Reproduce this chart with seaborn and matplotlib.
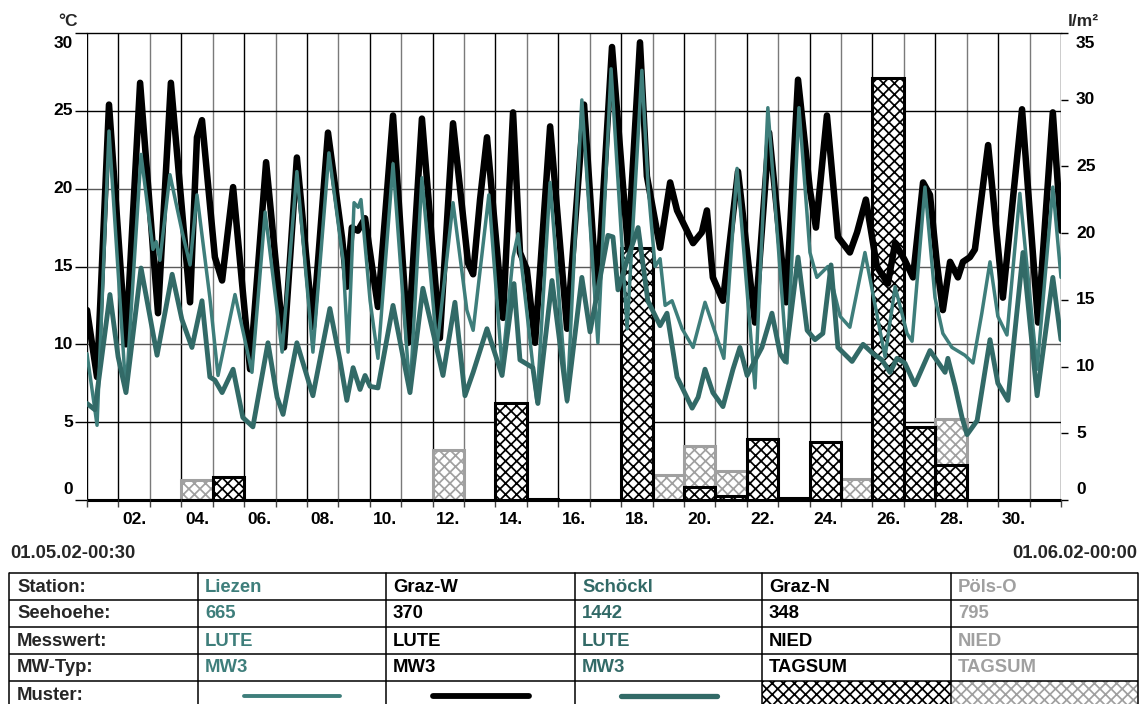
import matplotlib
matplotlib.use("Agg")
import matplotlib.pyplot as plt
import matplotlib.transforms as mtransforms
from matplotlib.patches import Rectangle
from matplotlib.lines import Line2D
import numpy as np
import pandas as pd
import seaborn as sns

# ---------------- data (days since 01.05.02 00:00) ----------------
grazw_day = [0.00, 0.32, 0.70, 1.24, 1.69, 2.26, 2.67, 3.28, 3.50, 3.66, 4.07, 4.30, 4.65, 5.19,
             5.70, 6.27, 6.68, 7.19, 7.67, 8.12, 8.27, 8.43, 8.62, 8.85, 9.26, 9.74, 10.22, 10.66,
             11.23, 11.65, 12.13, 12.29, 12.51, 12.73, 13.24, 13.56, 13.78, 14.00, 14.26, 14.74,
             15.28, 15.82, 16.23, 16.71, 17.22, 17.60, 17.82, 18.24, 18.56, 18.78, 19.29, 19.57,
             19.73, 19.92, 20.24, 20.72, 21.26, 21.71, 22.25, 22.63, 23.01, 23.20, 23.55, 23.90,
             24.28, 24.51, 24.79, 25.14, 25.49, 25.72, 26.03, 26.29, 26.61, 26.83, 27.05, 27.24,
             27.47, 27.72, 27.88, 28.10, 28.26, 28.68, 29.15, 29.76, 30.27, 30.74, 31.00]
grazw_temp = [12.2, 7.9, 25.4, 10.0, 26.8, 12.0, 26.8, 12.7, 23.3, 24.4, 15.6, 14.1, 20.1, 8.4,
              21.7, 9.8, 22.0, 11.1, 23.6, 16.8, 13.7, 17.5, 17.3, 18.1, 12.4, 24.7, 10.1, 24.5,
              10.4, 24.2, 15.2, 14.5, 19.3, 23.3, 11.7, 24.9, 15.9, 14.8, 10.1, 24.0,
              11.0, 25.4, 13.0, 29.1, 16.1, 29.4, 20.8, 16.2, 20.4, 18.6, 16.5, 17.2,
              18.6, 14.3, 12.8, 21.1, 11.4, 23.6, 12.7, 27.0, 19.9, 17.5, 24.7, 16.9,
              15.9, 17.2, 19.3, 15.0, 13.9, 16.5, 15.4, 14.3, 20.4, 19.6, 15.2, 12.2,
              15.3, 14.3, 15.3, 15.6, 16.1, 22.8, 13.0, 25.1, 11.4, 24.9, 17.3]

liezen_day = [0.00, 0.32, 0.70, 1.24, 1.72, 2.10, 2.20, 2.32, 2.64, 3.02, 3.28, 3.50, 3.91, 4.17,
              4.71, 5.25, 5.67, 6.21, 6.68, 7.19, 7.70, 8.15, 8.31, 8.50, 8.63, 8.72, 9.01, 9.26,
              9.74, 10.28, 10.66, 11.14, 11.65, 12.09, 12.29, 12.79, 13.21, 13.56, 13.72, 14.32,
              14.74, 15.28, 15.75, 16.26, 16.68, 17.19, 17.66, 17.86, 18.08, 18.24, 18.40, 18.62,
              18.94, 19.29, 19.67, 20.27, 20.69, 21.26, 21.67, 22.28, 22.66, 23.01, 23.23, 23.58,
              23.97, 24.28, 24.76, 25.40, 25.72, 26.10, 26.26, 26.67, 26.99, 27.24, 27.53, 27.94,
              28.20, 28.48, 28.74, 28.99, 29.28, 29.69, 30.24, 30.74, 31.00]
liezen_temp = [9.4, 4.8, 23.7, 6.9, 22.2, 16.1, 16.6, 15.4, 20.9, 17.3, 15.1, 19.6, 13.0, 8.0,
               13.2, 8.2, 18.5, 9.5, 21.1, 9.5, 22.3, 15.4, 9.5, 19.1, 18.8, 19.3, 12.8, 9.1,
               21.6, 6.9, 20.7, 9.8, 19.1, 12.2, 10.9, 19.6, 8.5, 15.6, 17.1, 6.3,
               20.4, 6.3, 25.7, 10.1, 27.7, 11.0, 27.6, 20.1, 15.0, 15.5, 12.5, 12.8,
               11.0, 9.8, 12.7, 9.1, 21.3, 7.2, 25.2, 8.8, 25.2, 15.9, 14.3, 15.0,
               11.8, 11.1, 15.9, 9.2, 13.7, 10.7, 10.2, 20.1, 13.0, 10.7, 9.8, 9.3,
               8.8, 12.0, 15.3, 11.8, 10.6, 19.7, 8.4, 20.1, 14.3]

schoeckl_day = [0.00, 0.25, 0.73, 0.99, 1.24, 1.72, 2.23, 2.71, 3.02, 3.34, 3.66, 3.91, 4.07, 4.30,
                4.65, 4.96, 5.28, 5.76, 6.05, 6.24, 6.68, 7.19, 7.73, 8.05, 8.27, 8.47, 8.69, 8.85,
                9.01, 9.26, 9.74, 10.28, 10.69, 11.33, 11.71, 12.03, 12.29, 12.73, 13.21, 13.59,
                13.78, 14.19, 14.35, 14.80, 15.28, 15.75, 16.01, 16.58, 16.74, 16.90, 17.19, 17.54,
                17.85, 18.24, 18.46, 18.78, 19.26, 19.45, 19.67, 19.92, 20.24, 20.56, 20.78, 21.01,
                21.48, 21.80, 22.06, 22.22, 22.63, 22.92, 23.17, 23.42, 23.68, 23.90, 24.35, 24.70,
                25.02, 25.30, 25.56, 25.78, 26.03, 26.35, 26.83, 27.31, 27.40, 27.63, 27.85, 28.01,
                28.33, 28.74, 28.99, 29.31, 29.79, 30.24, 30.74, 31.00]
schoeckl_temp = [6.2, 5.8, 13.2, 9.2, 6.9, 14.9, 9.3, 14.5, 11.6, 9.8, 12.8, 7.9, 7.7, 6.9,
                 8.4, 5.3, 4.7, 10.1, 6.6, 5.5, 10.1, 6.7, 12.3, 9.0, 6.4, 8.5, 7.1, 8.0,
                 7.3, 7.2, 12.5, 6.9, 13.6, 8.0, 12.7, 6.7, 8.2, 11.0, 8.0, 13.9,
                 9.0, 8.5, 6.2, 14.1, 6.4, 14.3, 10.8, 17.0, 16.9, 13.5, 15.4, 17.5,
                 12.8, 11.2, 12.0, 7.9, 5.9, 6.6, 8.4, 6.9, 6.0, 8.4, 9.8, 8.0,
                 9.8, 12.0, 9.4, 8.9, 15.6, 10.9, 10.3, 10.7, 15.1, 9.8, 8.9, 10.0,
                 9.4, 9.0, 8.2, 9.1, 8.8, 7.4, 9.6, 8.2, 9.1, 7.3, 5.3, 4.2,
                 5.1, 10.3, 7.5, 6.4, 15.9, 6.7, 14.3, 10.3]

precip_days = list(range(1, 32))
grazn_precip = [0, 0, 0, 0, 1.7, 0, 0, 0, 0, 0, 0, 0, 0, 7.3, 0.1, 0, 0, 18.9, 0, 0.95,
                0.3, 4.6, 0.15, 4.35, 0, 31.6, 5.5, 2.6, 0, 0, 0]
pols_precip = [0, 0, 0, 1.5, 0, 0, 0, 0, 0, 0, 0, 3.75, 0, 0, 0, 0, 0, 0, 1.9, 4.05,
               2.2, 0, 0, 0, 1.6, 0, 0, 6.1, 0, 0, 0]

day_labels = ["02.", "04.", "06.", "08.", "10.", "12.", "14.", "16.", "18.", "20.", "22.",
              "24.", "26.", "28.", "30."]
temp_ticks = [0, 5, 10, 15, 20, 25, 30]
precip_ticks = [0, 5, 10, 15, 20, 25, 30, 35]

row_titles = ["Station:", "Seehoehe:", "Messwert:", "MW-Typ:", "Muster:"]
stations = ["Liezen", "Graz-W", "Schöckl", "Graz-N", "Pöls-O"]
altitudes = ["665", "370", "1442", "348", "795"]
measures = ["LUTE", "LUTE", "LUTE", "NIED", "NIED"]
mw_types = ["MW3", "MW3", "MW3", "TAGSUM", "TAGSUM"]

# ---------------- style ----------------
C_LIEZEN = "#3e7e7b"
C_SCHOECKL = "#326a67"
C_GRAZW = "#000000"
C_GRAZN = "#000000"
C_POLS = "#a0a0a0"
col_colors = [C_LIEZEN, C_GRAZW, C_SCHOECKL, C_GRAZN, C_POLS]

sns.set_theme(style="white")
plt.rcParams["font.family"] = ["Liberation Sans", "DejaVu Sans"]
plt.rcParams["font.weight"] = "bold"
plt.rcParams["hatch.linewidth"] = 1.25

W, H, DPI = 1142, 704, 100
fig = plt.figure(figsize=(W / DPI, H / DPI), dpi=DPI)
fig.patch.set_facecolor("white")
L, R, T, B = 87, 1061, 33, 500
axp = fig.add_axes([L / W, 1 - B / H, (R - L) / W, (B - T) / H])
ax = axp.twinx()
ax.yaxis.tick_left()
axp.yaxis.tick_right()
axp.set_facecolor("white")

# ---------------- precipitation bars (right axis) ----------------
edges = [float(e) for e in range(0, len(precip_days) + 1)]
bars_df = pd.DataFrame({"center": np.array(precip_days, dtype=float) - 0.5,
                        "grazn": grazn_precip, "pols": pols_precip})
sns.histplot(data=bars_df, x="center", weights="pols", bins=edges, ax=axp, stat="count",
             element="bars", fill=True, color="white", alpha=1, edgecolor=C_POLS,
             linewidth=2.2, hatch="xxx", clip_on=False, zorder=3)
sns.histplot(data=bars_df, x="center", weights="grazn", bins=edges, ax=axp, stat="count",
             element="bars", fill=True, color="white", alpha=1, edgecolor=C_GRAZN,
             linewidth=2.2, hatch="xxx", clip_on=False, zorder=4)

# ---------------- temperature lines (left axis) ----------------
line_kw = dict(estimator=None, sort=False, solid_joinstyle="round", solid_capstyle="round")
sns.lineplot(x=grazw_day, y=grazw_temp, ax=ax, color=C_GRAZW, linewidth=4.7, **line_kw)
sns.lineplot(x=liezen_day, y=liezen_temp, ax=ax, color=C_LIEZEN, linewidth=2.5, **line_kw)
sns.lineplot(x=schoeckl_day, y=schoeckl_temp, ax=ax, color=C_SCHOECKL, linewidth=3.5, **line_kw)

for a in (ax, axp):
    a.set_xlabel("")
    a.set_ylabel("")
    a.grid(False)
for s in ax.spines.values():
    s.set_visible(False)
for name, s in axp.spines.items():
    if name == "top":
        s.set_visible(True)
        s.set_color("black")
        s.set_linewidth(1.0)
    else:
        s.set_visible(False)

# grid (drawn on the back axes so bars cover it)
for k in range(len(precip_days) + 1):
    c = "black" if (k % 2 == 1 or k == 0) else "#7a7a7a"
    axp.axvline(k, color=c, lw=1.0, zorder=1)
htrans = mtransforms.blended_transform_factory(axp.transAxes, ax.transData)
for t in temp_ticks[1:-1]:
    c = "black" if t in (5, 25) else "#5a5a5a"
    axp.add_line(Line2D([0, 1], [t, t], transform=htrans, color=c, lw=1.0, zorder=1))
ax.set_xlim(0, 31)
axp.set_xlim(0, 31)
ax.set_ylim(0, 30)
axp.set_ylim(0, 35)

# ticks
ax.set_yticks(temp_ticks)
ax.tick_params(axis="y", which="major", left=True, right=False, length=8.6, width=1.0,
               color="black", labelleft=False, labelright=False)
axp.set_yticks(precip_ticks)
axp.tick_params(axis="y", which="major", right=True, left=False, length=5.0, width=1.0,
                color="black", labelright=False, labelleft=False)
axp.set_xticks(list(range(len(precip_days) + 1)))
axp.tick_params(axis="x", which="major", bottom=True, length=5.0, width=1.0, color="#444444",
                labelbottom=False)
axp.set_xticks([int(s[:-1]) - 0.5 for s in day_labels], minor=True)
axp.set_xticklabels(day_labels, minor=True, fontsize=12.5, fontweight="bold")
axp.tick_params(axis="x", which="minor", bottom=True, length=0, pad=9, colors="black")

FS = 12.5
for v in temp_ticks:
    dy = -11 if v == temp_ticks[-1] else (10 if v == 0 else 0)
    tr = mtransforms.offset_copy(ax.get_yaxis_transform(), fig=fig, x=-14, y=dy, units="dots")
    ax.text(0, v, str(v), transform=tr, ha="right", va="center", fontsize=FS,
            fontweight="bold", color="black")
for v in precip_ticks:
    dy = -11 if v == precip_ticks[-1] else (10 if v == 0 else 0)
    tr = mtransforms.offset_copy(axp.get_yaxis_transform(), fig=fig, x=15, y=dy, units="dots")
    axp.text(1, v, str(v), transform=tr, ha="left", va="center", fontsize=FS,
             fontweight="bold", color="black")

# ---------------- overlay: units, dates, table ----------------
ov = fig.add_axes([0, 0, 1, 1], zorder=-5)
ov.set_xlim(0, W)
ov.set_ylim(H, 0)
ov.axis("off")
ov.patch.set_visible(False)

TFS = 13.3
ov.text(78, 21, "°C", ha="right", va="center", fontsize=FS, fontweight="bold")
ov.text(1068, 21, "l/m²", ha="left", va="center", fontsize=FS, fontweight="bold")
ov.text(10, 553, "01.05.02-00:30", ha="left", va="center", fontsize=TFS, fontweight="bold")
ov.text(1137, 553, "01.06.02-00:00", ha="right", va="center", fontsize=TFS, fontweight="bold")

col_x = [9, 198, 386, 575, 762, 951, 1138]
row_top = 573
row_h = 27.0
n_rows = len(row_titles)
for i in range(n_rows + 1):
    y = row_top + i * row_h
    ov.plot([col_x[0], col_x[-1]], [y, y], color="black", lw=1.1, solid_capstyle="butt")

table_rows = [stations, altitudes, measures, mw_types]
for r, title in enumerate(row_titles):
    yc = row_top + (r + 0.5) * row_h + 0.5
    ov.text(col_x[0] + 8, yc, title, ha="left", va="center", fontsize=TFS, fontweight="bold")
    if r < len(table_rows):
        for c, val in enumerate(table_rows[r]):
            ov.text(col_x[c + 1] + 7, yc, val, ha="left", va="center", fontsize=TFS,
                    fontweight="bold", color=col_colors[c])

# pattern row
ym = row_top + 4.5 * row_h + 1
sample_lw = [2.8, 4.2, 3.8]
for c in range(3):
    x0, x1 = col_x[c + 1], col_x[c + 2]
    cx = (x0 + x1) / 2
    ov.plot([cx - 48, cx + 48], [ym, ym], color=col_colors[c], lw=sample_lw[c],
            solid_capstyle="round")
for c in (3, 4):
    x0, x1 = col_x[c + 1], col_x[c + 2]
    ov.add_patch(Rectangle((x0, row_top + 4 * row_h), x1 - x0, row_h, facecolor="white",
                           edgecolor=col_colors[c], hatch="xxx", lw=0.0))
for xx in col_x:
    ov.plot([xx, xx], [row_top, row_top + n_rows * row_h], color="black", lw=1.1)

fig.savefig("out.png", dpi=DPI, facecolor="white")
